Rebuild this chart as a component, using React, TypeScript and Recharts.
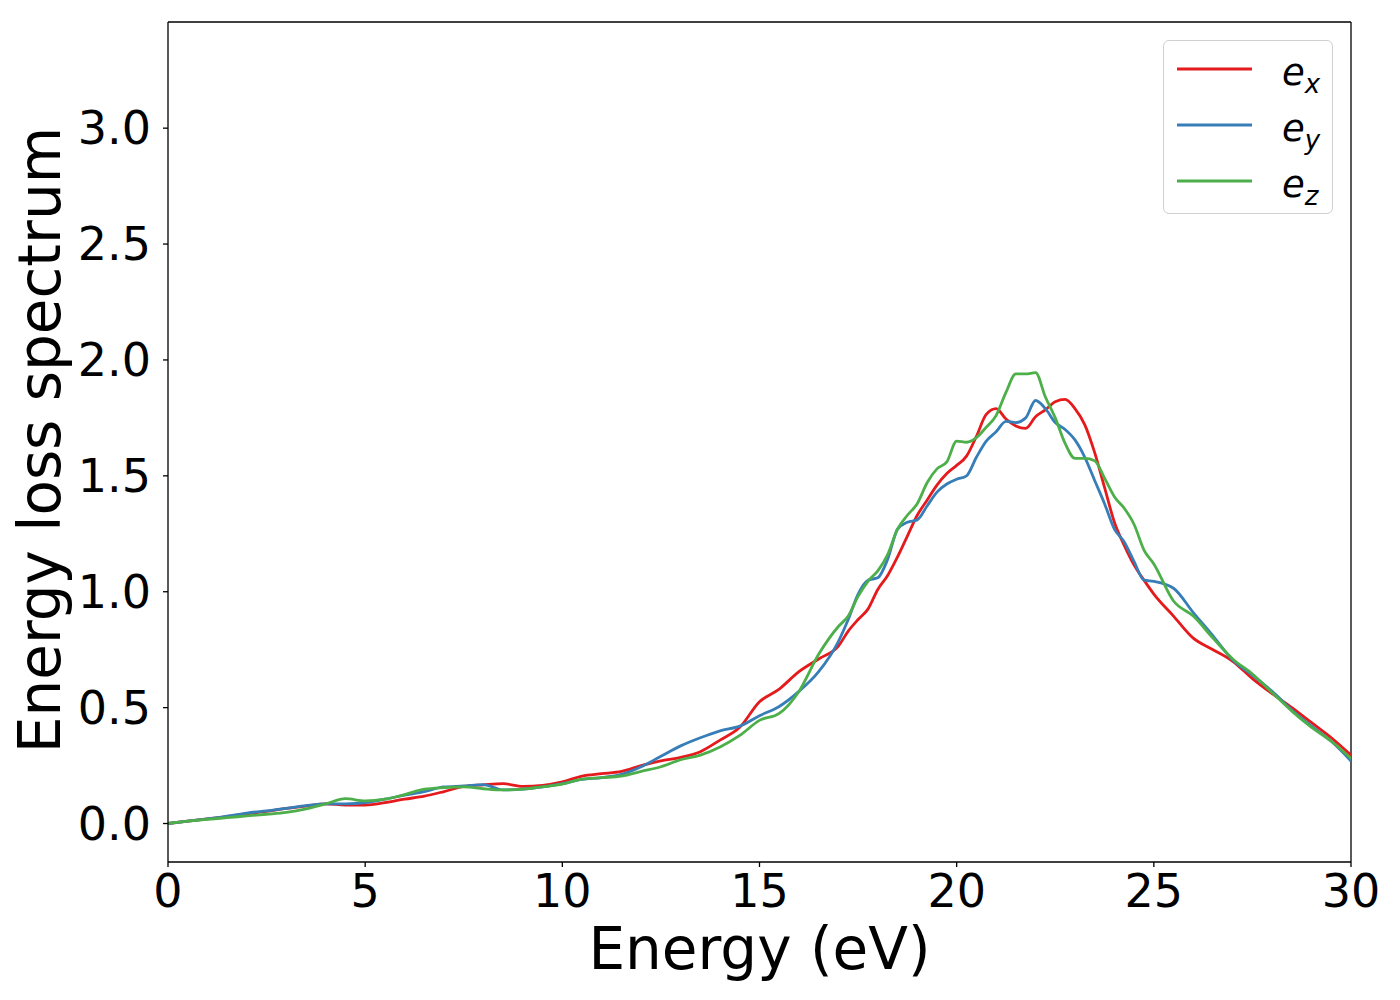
import { LineChart, Line, XAxis, YAxis, ReferenceLine } from "recharts";

// energy grid (eV) - finer around the plasmon peak
const energy = [
  0, 0.5, 1, 1.5, 2, 2.5, 3, 3.5, 4, 4.5, 5, 5.5, 6, 6.5, 7, 7.5, 8, 8.5, 9, 9.5,
  10, 10.5, 11, 11.5, 12, 12.5, 13, 13.5, 14, 14.5, 15, 15.5, 16, 16.5,
  17, 17.25, 17.5, 17.75, 18, 18.25, 18.5, 18.75, 19, 19.25, 19.5, 19.75,
  20, 20.25, 20.5, 20.75, 21, 21.25, 21.5, 21.75, 22, 22.25, 22.5, 22.75,
  23, 23.25, 23.5, 23.75, 24, 24.25, 24.5, 24.75, 25,
  25.5, 26, 26.5, 27, 27.5, 28, 28.5, 29, 29.5, 30,
];

const ex = [
  0, 0.01, 0.02, 0.03, 0.042, 0.052, 0.065, 0.075, 0.085, 0.08, 0.08, 0.09, 0.105, 0.118, 0.138, 0.16, 0.167, 0.172, 0.16, 0.165,
  0.18, 0.205, 0.215, 0.225, 0.25, 0.27, 0.285, 0.31, 0.36, 0.415, 0.525, 0.58, 0.655, 0.71,
  0.765, 0.83, 0.88, 0.925, 1.01, 1.07, 1.15, 1.24, 1.33, 1.395, 1.46, 1.51,
  1.545, 1.585, 1.67, 1.765, 1.79, 1.745, 1.715, 1.705, 1.755, 1.785, 1.82, 1.83,
  1.79, 1.72, 1.6, 1.45, 1.3, 1.2, 1.115, 1.05, 0.99,
  0.895, 0.8, 0.75, 0.7, 0.625, 0.56, 0.5, 0.435, 0.37, 0.295,
];

const ey = [
  0, 0.01, 0.02, 0.032, 0.045, 0.055, 0.065, 0.077, 0.085, 0.085, 0.09, 0.105, 0.122, 0.138, 0.158, 0.162, 0.168, 0.145, 0.148, 0.158,
  0.172, 0.19, 0.198, 0.212, 0.245, 0.29, 0.335, 0.37, 0.4, 0.42, 0.465, 0.505, 0.57, 0.655,
  0.785, 0.88, 0.99, 1.05, 1.06, 1.14, 1.27, 1.3, 1.31, 1.37, 1.43, 1.465,
  1.485, 1.5, 1.58, 1.65, 1.69, 1.735, 1.73, 1.75, 1.825, 1.79, 1.73, 1.7,
  1.655, 1.58, 1.48, 1.38, 1.27, 1.215, 1.13, 1.05, 1.045,
  1.015, 0.91, 0.81, 0.705, 0.64, 0.57, 0.49, 0.42, 0.355, 0.27,
];

const ez = [
  0, 0.01, 0.018, 0.025, 0.033, 0.04, 0.048, 0.063, 0.085, 0.107, 0.098, 0.105, 0.125, 0.148, 0.155, 0.158, 0.15, 0.145, 0.148, 0.158,
  0.17, 0.192, 0.198, 0.205, 0.225, 0.245, 0.275, 0.295, 0.33, 0.38, 0.445, 0.475, 0.57, 0.73,
  0.85, 0.895, 0.98, 1.045, 1.09, 1.16, 1.27, 1.33, 1.38, 1.47, 1.53, 1.56,
  1.65, 1.645, 1.665, 1.71, 1.76, 1.86, 1.94, 1.94, 1.945, 1.84, 1.75, 1.64,
  1.575, 1.575, 1.565, 1.49, 1.41, 1.36, 1.29, 1.18, 1.12,
  0.96, 0.895, 0.8, 0.71, 0.645, 0.565, 0.485, 0.415, 0.355, 0.28,
];

const xTicks = [0, 5, 10, 15, 20, 25, 30];
const yTicks = [0, 0.5, 1, 1.5, 2, 2.5, 3];

const series = [
  { key: "ex", sub: "x", color: "#e41a1c" },
  { key: "ey", sub: "y", color: "#377eb8" },
  { key: "ez", sub: "z", color: "#4daf4a" },
];

const data = energy.map((e, i) => ({ e, ex: ex[i], ey: ey[i], ez: ez[i] }));

const FONT = "DejaVu Sans";
const xMax = 30;
const yDomain = [-0.166, 3.458];

function MathLegend() {
  return (
    <div
      style={{
        position: "absolute",
        left: 1163,
        top: 40,
        width: 170,
        height: 174,
        boxSizing: "border-box",
        border: "1.3px solid #d0d0d0",
        borderRadius: 6,
        background: "rgba(255,255,255,0.8)",
        fontFamily: FONT,
      }}
    >
      {series.map((s) => (
        <div key={s.key} style={{ height: 56, display: "flex", alignItems: "center" }}>
          <svg width={105} height={10} style={{ marginLeft: 13 }}>
            <line x1={0} y1={5} x2={75} y2={5} stroke={s.color} strokeWidth={2.8} />
          </svg>
          <span style={{ fontStyle: "italic", fontSize: 37, lineHeight: 1, marginTop: 6 }}>
            e<span style={{ fontSize: 26, position: "relative", top: 8 }}>{s.sub}</span>
          </span>
        </div>
      ))}
    </div>
  );
}

export default function App() {
  return (
    <div style={{ position: "absolute", left: 0, top: 0, width: 1400, height: 1000, background: "#fff" }}>
      <LineChart width={1400} height={1000} data={data} margin={{ top: 22, right: 49, bottom: 0, left: 0 }}>
        <XAxis
          dataKey="e"
          type="number"
          domain={[0, xMax]}
          ticks={xTicks}
          allowDataOverflow
          height={138}
          tickSize={5}
          tickMargin={7}
          axisLine={{ stroke: "#000", strokeWidth: 1.3 }}
          tickLine={{ stroke: "#000", strokeWidth: 1.3 }}
          tick={{ fill: "#000", fontSize: 46, fontFamily: FONT }}
          label={{
            content: () => (
              <text x={759.5} y={969} textAnchor="middle" fontSize={58} fontFamily={FONT} fill="#000">
                Energy (eV)
              </text>
            ),
          }}
        />
        <YAxis
          type="number"
          domain={yDomain}
          ticks={yTicks}
          allowDataOverflow
          width={168}
          tickSize={5}
          tickMargin={12}
          tickFormatter={(v: number) => v.toFixed(1)}
          axisLine={{ stroke: "#000", strokeWidth: 1.3 }}
          tickLine={{ stroke: "#000", strokeWidth: 1.3 }}
          tick={{ fill: "#000", fontSize: 46, fontFamily: FONT }}
          label={{
            content: () => (
              <text x={60} y={440} transform="rotate(-90, 60, 440)" textAnchor="middle" fontSize={58} fontFamily={FONT} fill="#000">
                Energy loss spectrum
              </text>
            ),
          }}
        />
        <ReferenceLine y={yDomain[1]} stroke="#000" strokeWidth={1.3} />
        <ReferenceLine x={xMax} stroke="#000" strokeWidth={1.3} />
        {series.map((s) => (
          <Line
            key={s.key}
            type="monotone"
            dataKey={s.key}
            name={"e_" + s.sub}
            stroke={s.color}
            strokeWidth={2.8}
            dot={false}
            isAnimationActive={false}
          />
        ))}
      </LineChart>
      <MathLegend />
    </div>
  );
}
